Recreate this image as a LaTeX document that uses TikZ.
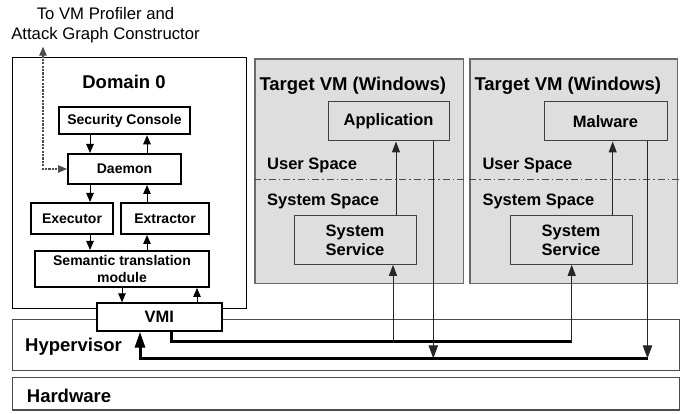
\documentclass[tikz,border=0pt]{standalone}
\usepackage{fontspec}
\setmainfont{Liberation Sans}
\usetikzlibrary{arrows.meta,calc}
\newcommand\fbig{\fontsize{18.5}{20}\selectfont\bfseries}
\newcommand\fvm{\fontsize{16.5}{19.3}\selectfont\bfseries}
\newcommand\fsm{\fontsize{14}{16.7}\selectfont\bfseries}
\newcommand\ftitle{\fontsize{16.7}{19}\selectfont}
\begin{document}
\begin{tikzpicture}[x=1pt,y=-1pt,
  dbox/.style={draw=black,line width=2pt,fill=white,inner sep=0pt,font=\fsm,align=center},
  cont/.style={draw=black,line width=1pt,inner sep=0pt},
  vmbox/.style={draw=black!58,line width=1.5pt,fill=black!13,inner sep=0pt},
  ibox/.style={draw=black!75,line width=1pt,inner sep=0pt,font=\fvm,align=center},
  layer/.style={draw=black!70,line width=1.2pt,inner sep=0pt},
  lbl/.style={inner sep=0pt,anchor=base west},
  sarr/.style={line width=1pt,-{Triangle[length=9pt,width=7.5pt]}},
  varr/.style={line width=1pt,draw=black!85,-{Triangle[length=11pt,width=8pt]}},
  darr/.style={line width=1pt,draw=black!85,-{Triangle[length=13pt,width=9.5pt]}},
  bus/.style={line width=3pt,line join=miter},
  sep/.style={draw=black!70,line width=1pt,dash pattern=on 7pt off 3pt on 1.5pt off 3pt},
  dots/.style={draw=black!70,line width=1.1pt,dash pattern=on 2.2pt off 1.2pt,{Triangle[length=9pt,width=7.5pt]}-{Triangle[length=9pt,width=7.5pt]}}
]
\useasboundingbox (0,0) rectangle (686,414);

% layers
\node[layer,minimum width=666.6pt,minimum height=51.4pt] (hyp) at (346,345) {};
\node[layer,minimum width=666.6pt,minimum height=32.5pt] (hw) at (346,393.75) {};
\node[lbl,font=\fbig] (hyplbl) at (25,351.7) {Hypervisor};
\node[lbl,font=\fbig] (hwlbl) at (26.7,402) {Hardware};

% title
\node[inner sep=0pt,anchor=base,font=\ftitle] (t1) at (105.5,20) {To VM Profiler and};
\node[inner sep=0pt,anchor=base,font=\ftitle] (t2) at (105.5,39.3) {Attack Graph Constructor};

% Domain 0
\node[cont,minimum width=234pt,minimum height=251.3pt] (dom0) at (129.7,183.35) {};
\node[inner sep=0pt,anchor=base,font=\fbig] (dom0lbl) at (124,88.3) {Domain 0};
\node[dbox,minimum width=131pt,minimum height=27.6pt] (sc) at (124.5,120.5) {Security Console};
\node[dbox,minimum width=113pt,minimum height=30pt] (daemon) at (124.5,169) {Daemon};
\node[dbox,minimum width=82pt,minimum height=31pt] (exec) at (72,218.5) {Executor};
\node[dbox,minimum width=88pt,minimum height=31pt] (extr) at (165,218.5) {Extractor};
\node[dbox,minimum width=174pt,minimum height=36pt] (sem) at (122,269) {Semantic translation\\module};

% Target VMs
\node[vmbox,minimum width=208.3pt,minimum height=224.3pt] (vm1) at (359.15,171.15) {};
\node[vmbox,minimum width=207.7pt,minimum height=224.3pt] (vm2) at (573.85,171.15) {};
\node[lbl,font=\fbig] (vm1lbl) at (259.3,91) {Target VM (Windows)};
\node[lbl,font=\fbig] (vm2lbl) at (474.3,91) {Target VM (Windows)};
\node[ibox,minimum width=121pt,minimum height=39pt] (app) at (388.5,121.5) {Application};
\node[ibox,minimum width=123pt,minimum height=39pt] (mal) at (605.5,121.5) {Malware};
\node[ibox,minimum width=122pt,minimum height=48.6pt] (ss1) at (355,240) {System\\Service};
\node[ibox,minimum width=122pt,minimum height=48.6pt] (ss2) at (571,240) {System\\Service};
\coordinate (sepy) at (0,179.3);
\draw[sep] (vm1.west |- sepy) -- (vm1.east |- sepy);
\draw[sep] (vm2.west |- sepy) -- ([xshift=2pt]vm2.east |- sepy);
\node[lbl,font=\fvm] (us1) at (267,169.3) {User Space};
\node[lbl,font=\fvm] (us2) at (482.3,169.3) {User Space};
\node[lbl,font=\fvm] (sp1) at (267,205.7) {System Space};
\node[lbl,font=\fvm] (sp2) at (482.3,205.7) {System Space};

% VMI
\node[dbox,font=\fvm,minimum width=125pt,minimum height=27.4pt] (vmi) at (159.3,317) {VMI};

% Domain 0 arrows
\coordinate (xl) at (90,0);
\coordinate (xr) at (147,0);
\coordinate (xl2) at (122,0);
\coordinate (xr2) at (197,0);
\draw[sarr] (sc.south -| xl) -- (daemon.north -| xl);
\draw[sarr] (daemon.north -| xr) -- (sc.south -| xr);
\draw[sarr] (daemon.south -| xl) -- (exec.north -| xl);
\draw[sarr] (extr.north -| xr) -- (daemon.south -| xr);
\draw[sarr] (exec.south -| xl) -- (sem.north -| xl);
\draw[sarr] (sem.north -| xr) -- (extr.south -| xr);
\draw[sarr] (sem.south -| xl2) -- (vmi.north -| xl2);
\draw[sarr] (vmi.north -| xr2) -- (sem.south -| xr2);

% dotted link
\coordinate (out) at (43,46.7);
\draw[dots] (out) |- (daemon.west);

% VM internal arrows
\coordinate (a1) at (396,0);
\coordinate (a2) at (612.7,0);
\draw[varr] (ss1.north -| a1) -- (app.south -| a1);
\draw[varr] (ss2.north -| a2) -- (mal.south -| a2);

% buses
\coordinate (b1) at (171,341.7);
\coordinate (t1x) at (393,341.7);
\coordinate (e1) at (571.7,341.7);
\coordinate (b2) at (140,358.3);
\coordinate (t2x) at (433.3,358.3);
\coordinate (e2) at (647.5,358.3);
\draw[bus] (vmi.south -| b1) -- (b1) -- (e1);
\draw[varr] (t1x) -- (t1x |- ss1.south);
\draw[varr] (e1) -- (e1 |- ss2.south);
\draw[darr] (t2x |- app.south) -- (t2x);
\draw[darr] (e2 |- mal.south) -- (e2);
\draw[bus,-{Triangle[length=16pt,width=10pt]}] (e2) -- (b2) -- (b2 |- vmi.south);
\end{tikzpicture}
\end{document}
